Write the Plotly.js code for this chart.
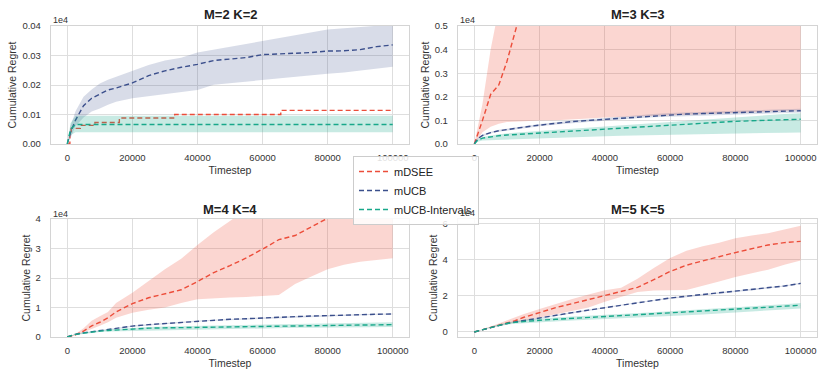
<!DOCTYPE html>
<html>
<head>
<meta charset="utf-8">
<script src="https://cdn.plot.ly/plotly-3.0.1.min.js"></script>
<style>
  html, body { margin: 0; padding: 0; background: #ffffff; }
  #chart { width: 830px; height: 378px; }
</style>
</head>
<body>
<div id="chart"></div>
<script>
// timesteps shared by every panel
const gridX = [0, 1000, 2500, 5000, 7500, 10000, 12500, 15000, 20000, 25000, 30000, 35000, 40000,
  45000, 50000, 55000, 60000, 65000, 70000, 75000, 80000, 85000, 90000, 95000, 100000];

const seriesNames = ["mDSEE", "mUCB", "mUCB-Intervals"];
const panelTitles = ["M=2 K=2", "M=3 K=3", "M=4 K=4", "M=5 K=5"];

// values in units of 1e4
// M=2 K=2 (mDSEE is a staircase)
const p1DseeX = [0, 800, 1200, 4000, 8500, 16000, 33000, 65600, 100000];
const p1Dsee = [0, 0.0042, 0.0053, 0.0063, 0.0073, 0.0088, 0.0100, 0.0114, 0.0114];
const p1Ucb = [0, 0.004, 0.008, 0.013, 0.0155, 0.017, 0.0183, 0.019, 0.0207, 0.0232, 0.0248, 0.026, 0.027,
  0.0283, 0.0288, 0.0293, 0.0303, 0.0305, 0.0307, 0.031, 0.0315, 0.0316, 0.032, 0.033, 0.0336];
const p1UcbLo = [0, 0.002, 0.006, 0.009, 0.011, 0.012, 0.0133, 0.0143, 0.0155, 0.0163, 0.017, 0.0176, 0.0183,
  0.0201, 0.0207, 0.0212, 0.0218, 0.0222, 0.0228, 0.0233, 0.0238, 0.0242, 0.0248, 0.0255, 0.0262];
const p1UcbHi = [0, 0.006, 0.011, 0.016, 0.0185, 0.0205, 0.0218, 0.0228, 0.025, 0.0268, 0.0283, 0.0292, 0.031,
  0.032, 0.0328, 0.0338, 0.0348, 0.0358, 0.037, 0.038, 0.0388, 0.0392, 0.0396, 0.0401, 0.0405];
const p1Ints = [0, 0.005, 0.0066, 0.0066, 0.0066, 0.0066, 0.0066, 0.0066, 0.0066, 0.0066, 0.0066, 0.0066, 0.0066,
  0.0066, 0.0066, 0.0066, 0.0066, 0.0066, 0.0066, 0.0066, 0.0066, 0.0066, 0.0066, 0.0066, 0.0066];
const p1IntsLo = [0, 0.003, 0.004, 0.004, 0.004, 0.004, 0.004, 0.004, 0.004, 0.004, 0.004, 0.004, 0.004,
  0.004, 0.004, 0.004, 0.004, 0.004, 0.004, 0.004, 0.004, 0.004, 0.004, 0.004, 0.004];
const p1IntsHi = [0, 0.007, 0.0096, 0.0096, 0.0096, 0.0096, 0.0096, 0.0096, 0.0096, 0.0096, 0.0096, 0.0096, 0.0096,
  0.0096, 0.0096, 0.0096, 0.0096, 0.0096, 0.0096, 0.0096, 0.0096, 0.0096, 0.0096, 0.0096, 0.0096];

// M=3 K=3
const p2Dsee = [0, 0.038, 0.1, 0.21, 0.25, 0.35, 0.5, 0.65, 0.9, 1.1, 1.3, 1.45, 1.6,
  1.75, 1.9, 2.0, 2.1, 2.2, 2.3, 2.4, 2.5, 2.6, 2.7, 2.8, 2.9];
const p2DseeLo = [0, 0.02, 0.05, 0.073, 0.086, 0.093, 0.096, 0.098, 0.1, 0.101, 0.103, 0.108, 0.112,
  0.115, 0.118, 0.12, 0.122, 0.124, 0.126, 0.128, 0.13, 0.133, 0.136, 0.14, 0.143];
const p2DseeHi = [0, 0.07, 0.17, 0.4, 0.65, 0.9, 1.2, 1.5, 2.0, 2.4, 2.8, 3.1, 3.4,
  3.7, 4.0, 4.2, 4.4, 4.6, 4.8, 5.0, 5.2, 5.4, 5.6, 5.8, 6.0];
const p2Ucb = [0, 0.022, 0.036, 0.048, 0.056, 0.062, 0.067, 0.071, 0.08, 0.088, 0.095, 0.1, 0.105,
  0.11, 0.115, 0.12, 0.124, 0.127, 0.129, 0.131, 0.133, 0.135, 0.137, 0.139, 0.141];
const p2UcbLo = [0, 0.019, 0.032, 0.044, 0.052, 0.058, 0.063, 0.067, 0.075, 0.083, 0.09, 0.095, 0.1,
  0.104, 0.109, 0.113, 0.117, 0.12, 0.122, 0.124, 0.126, 0.128, 0.129, 0.131, 0.133];
const p2UcbHi = [0, 0.025, 0.04, 0.052, 0.06, 0.066, 0.071, 0.075, 0.085, 0.093, 0.1, 0.105, 0.111,
  0.116, 0.121, 0.127, 0.131, 0.134, 0.136, 0.139, 0.141, 0.143, 0.145, 0.147, 0.149];
const p2Ints = [0, 0.016, 0.025, 0.031, 0.035, 0.038, 0.04, 0.042, 0.046, 0.049, 0.053, 0.058, 0.062,
  0.067, 0.071, 0.075, 0.08, 0.084, 0.088, 0.092, 0.096, 0.099, 0.101, 0.103, 0.105];
const p2IntsLo = [0, 0.01, 0.015, 0.018, 0.02, 0.021, 0.022, 0.023, 0.025, 0.027, 0.029, 0.031, 0.033,
  0.035, 0.037, 0.039, 0.04, 0.042, 0.043, 0.044, 0.045, 0.046, 0.047, 0.048, 0.049];
const p2IntsHi = [0, 0.02, 0.03, 0.037, 0.041, 0.045, 0.048, 0.05, 0.055, 0.06, 0.065, 0.07, 0.075,
  0.08, 0.085, 0.09, 0.095, 0.1, 0.105, 0.11, 0.115, 0.12, 0.124, 0.127, 0.13];

// M=4 K=4
const p3Dsee = [0, 0.02, 0.07, 0.2, 0.38, 0.5, 0.65, 0.85, 1.13, 1.33, 1.47, 1.6, 1.88,
  2.18, 2.42, 2.68, 2.98, 3.3, 3.44, 3.72, 4.0, 4.3, 4.6, 4.9, 5.2];
const p3DseeLo = [0, 0.02, 0.05, 0.15, 0.27, 0.38, 0.5, 0.65, 0.82, 0.92, 1.0, 1.15, 1.28,
  1.32, 1.34, 1.36, 1.38, 1.42, 1.8, 2.05, 2.3, 2.45, 2.55, 2.6, 2.67];
const p3DseeHi = [0, 0.03, 0.1, 0.3, 0.55, 0.7, 0.85, 1.15, 1.5, 1.9, 2.3, 2.65, 3.12,
  3.55, 3.95, 4.35, 4.7, 5.0, 5.3, 5.6, 5.9, 6.2, 6.5, 6.8, 7.1];
const p3Ucb = [0, 0.04, 0.09, 0.14, 0.18, 0.22, 0.26, 0.29, 0.37, 0.42, 0.46, 0.5, 0.54,
  0.57, 0.6, 0.62, 0.65, 0.67, 0.69, 0.71, 0.73, 0.74, 0.75, 0.77, 0.78];
const p3UcbLo = [0, 0.03, 0.08, 0.13, 0.165, 0.205, 0.245, 0.275, 0.35, 0.4, 0.44, 0.48, 0.52,
  0.55, 0.58, 0.6, 0.63, 0.65, 0.67, 0.69, 0.71, 0.72, 0.73, 0.75, 0.76];
const p3UcbHi = [0, 0.05, 0.1, 0.15, 0.195, 0.235, 0.275, 0.305, 0.39, 0.44, 0.48, 0.52, 0.56,
  0.59, 0.62, 0.64, 0.67, 0.69, 0.71, 0.73, 0.75, 0.76, 0.77, 0.79, 0.8];
const p3Ints = [0, 0.04, 0.09, 0.13, 0.17, 0.2, 0.22, 0.24, 0.27, 0.3, 0.31, 0.32, 0.33,
  0.34, 0.35, 0.355, 0.36, 0.365, 0.37, 0.38, 0.39, 0.4, 0.405, 0.41, 0.42];
const p3IntsLo = [0, 0.03, 0.07, 0.11, 0.14, 0.17, 0.19, 0.2, 0.22, 0.24, 0.25, 0.26, 0.27,
  0.28, 0.29, 0.29, 0.3, 0.3, 0.31, 0.31, 0.32, 0.32, 0.33, 0.33, 0.34];
const p3IntsHi = [0, 0.05, 0.1, 0.15, 0.19, 0.22, 0.25, 0.27, 0.31, 0.34, 0.36, 0.37, 0.39,
  0.4, 0.41, 0.42, 0.43, 0.44, 0.45, 0.46, 0.46, 0.47, 0.48, 0.49, 0.5];

// M=5 K=5
const p4Dsee = [0, 0.05, 0.13, 0.26, 0.4, 0.52, 0.62, 0.8, 1.07, 1.35, 1.57, 1.79, 2.0,
  2.22, 2.47, 2.9, 3.35, 3.7, 3.95, 4.17, 4.4, 4.6, 4.82, 4.95, 5.02];
const p4DseeLo = [0, 0.05, 0.12, 0.24, 0.34, 0.44, 0.53, 0.62, 0.8, 0.98, 1.15, 1.35, 1.67,
  1.95, 2.22, 2.3, 2.31, 2.33, 2.55, 2.8, 3.05, 3.25, 3.45, 3.73, 3.96];
const p4DseeHi = [0, 0.05, 0.15, 0.3, 0.48, 0.62, 0.8, 0.98, 1.27, 1.56, 1.83, 2.08, 2.31,
  2.45, 2.95, 3.55, 4.1, 4.5, 4.75, 4.95, 5.2, 5.35, 5.47, 5.68, 5.89];
const p4Ucb = [0, 0.05, 0.12, 0.25, 0.37, 0.47, 0.55, 0.63, 0.78, 0.93, 1.07, 1.21, 1.35,
  1.49, 1.63, 1.76, 1.88, 1.98, 2.07, 2.15, 2.24, 2.33, 2.43, 2.55, 2.69];
const p4UcbLo = [0, 0.045, 0.11, 0.23, 0.35, 0.45, 0.53, 0.61, 0.75, 0.9, 1.04, 1.18, 1.32,
  1.46, 1.6, 1.73, 1.85, 1.95, 2.04, 2.12, 2.21, 2.3, 2.4, 2.52, 2.66];
const p4UcbHi = [0, 0.055, 0.13, 0.27, 0.39, 0.49, 0.57, 0.65, 0.81, 0.96, 1.1, 1.24, 1.38,
  1.52, 1.66, 1.79, 1.91, 2.01, 2.1, 2.18, 2.27, 2.36, 2.46, 2.58, 2.72];
const p4Ints = [0, 0.05, 0.12, 0.26, 0.38, 0.47, 0.53, 0.58, 0.65, 0.7, 0.75, 0.79, 0.83,
  0.88, 0.94, 0.99, 1.05, 1.1, 1.15, 1.2, 1.25, 1.31, 1.37, 1.43, 1.48];
const p4IntsLo = [0, 0.05, 0.11, 0.23, 0.33, 0.4, 0.45, 0.49, 0.55, 0.59, 0.63, 0.67, 0.7,
  0.74, 0.79, 0.83, 0.88, 0.93, 0.97, 1.02, 1.07, 1.13, 1.19, 1.25, 1.3];
const p4IntsHi = [0, 0.05, 0.13, 0.29, 0.43, 0.54, 0.61, 0.67, 0.75, 0.8, 0.85, 0.89, 0.93,
  0.98, 1.04, 1.09, 1.15, 1.2, 1.25, 1.3, 1.36, 1.42, 1.48, 1.54, 1.6];

const xTicks = [0, 20000, 40000, 60000, 80000, 100000];

const COLORS = ["#ec4d3a", "#3b4f8c", "#18a88a"];
const FILLS = ["rgba(236,77,58,0.23)", "rgba(59,79,140,0.2)", "rgba(24,168,138,0.24)"];
const FONT = "Liberation Sans, Arial, sans-serif";


function bandTrace(x, lo, hi, idx, axes) {
  return {
    x: x.concat(x.slice().reverse()),
    y: hi.concat(lo.slice().reverse()),
    xaxis: axes[0], yaxis: axes[1],
    type: "scatter", mode: "lines",
    fill: "toself", fillcolor: FILLS[idx],
    line: { width: 0 },
    showlegend: false, hoverinfo: "skip",
  };
}

function meanTrace(x, y, idx, axes, showLegend, shape) {
  return {
    x, y,
    xaxis: axes[0], yaxis: axes[1],
    type: "scatter", mode: "lines",
    name: seriesNames[idx],
    line: { color: COLORS[idx], width: 1.4, dash: "5px,3px", shape: shape || "linear" },
    showlegend: showLegend,
  };
}


const panels = [
  { axes: ["x", "y"], series: [
      { x: p1DseeX, mean: p1Dsee, shape: "hv" },
      { x: gridX, mean: p1Ucb, lo: p1UcbLo, hi: p1UcbHi },
      { x: gridX, mean: p1Ints, lo: p1IntsLo, hi: p1IntsHi } ] },
  { axes: ["x2", "y2"], series: [
      { x: gridX, mean: p2Dsee, lo: p2DseeLo, hi: p2DseeHi },
      { x: gridX, mean: p2Ucb, lo: p2UcbLo, hi: p2UcbHi },
      { x: gridX, mean: p2Ints, lo: p2IntsLo, hi: p2IntsHi } ] },
  { axes: ["x3", "y3"], series: [
      { x: gridX, mean: p3Dsee, lo: p3DseeLo, hi: p3DseeHi },
      { x: gridX, mean: p3Ucb, lo: p3UcbLo, hi: p3UcbHi },
      { x: gridX, mean: p3Ints, lo: p3IntsLo, hi: p3IntsHi } ] },
  { axes: ["x4", "y4"], series: [
      { x: gridX, mean: p4Dsee, lo: p4DseeLo, hi: p4DseeHi },
      { x: gridX, mean: p4Ucb, lo: p4UcbLo, hi: p4UcbHi },
      { x: gridX, mean: p4Ints, lo: p4IntsLo, hi: p4IntsHi } ] },
];

const traces = [];
panels.forEach((panel, p) => {
  panel.series.forEach((s, i) => {
    if (s.lo) traces.push(bandTrace(s.x, s.lo, s.hi, i, panel.axes));
    traces.push(meanTrace(s.x, s.mean, i, panel.axes, p === 0, s.shape));
  });
});


function xAxis(domain, anchor) {
  return {
    domain, anchor,
    range: [-5000, 105000],
    tickvals: xTicks, tickformat: "d",
    showgrid: true, gridcolor: "#dedede", gridwidth: 1,
    zeroline: false, showline: true, mirror: true, linecolor: "#d4d4d4", linewidth: 1.2,
    ticks: "outside", ticklen: 4, tickcolor: "rgba(0,0,0,0)",
    tickfont: { size: 9.5, color: "#333333" },
    title: { text: "Timestep", font: { size: 10.5, color: "#333333" }, standoff: 5 },
  };
}

function yAxis(domain, anchor, range, tickvals, tickformat) {
  return {
    domain, anchor, range, tickvals, tickformat,
    showgrid: true, gridcolor: "#dedede", gridwidth: 1,
    zeroline: false, showline: true, mirror: true, linecolor: "#d4d4d4", linewidth: 1.2,
    ticks: "outside", ticklen: 7, tickcolor: "rgba(0,0,0,0)",
    tickfont: { size: 9.5, color: "#333333" },
    title: { text: "Cumulative Regret", font: { size: 10.5, color: "#333333" }, standoff: 3 },
  };
}

const colL = [51 / 830, 409 / 830];
const colR = [458 / 830, 817 / 830];
const rowT = [1 - 144 / 378, 1 - 26 / 378];
const rowB = [1 - 337 / 378, 1 - 219 / 378];

const titleAnn = (text, dom, yPaper) => ({
  text: "<b>" + text + "</b>", xref: "paper", yref: "paper",
  x: (dom[0] + dom[1]) / 2, y: yPaper, xanchor: "center", yanchor: "middle",
  showarrow: false, font: { size: 13, color: "#222222" },
});
const offsetAnn = (dom, yPaper) => ({
  text: "1e4", xref: "paper", yref: "paper",
  x: dom[0], y: yPaper, xanchor: "left", yanchor: "middle",
  showarrow: false, font: { size: 9, color: "#333333" },
});

const layout = {
  width: 830, height: 378,
  margin: { l: 0, r: 0, t: 0, b: 0 },
  paper_bgcolor: "#ffffff", plot_bgcolor: "#ffffff",
  font: { family: FONT, color: "#333333" },
  showlegend: true,
  hovermode: false,
  legend: {
    x: 353 / 830, y: 1 - 156 / 378, xanchor: "left", yanchor: "top",
    bgcolor: "rgba(255,255,255,0.85)", bordercolor: "#cccccc", borderwidth: 1,
    font: { size: 11, color: "#222222" }, tracegroupgap: 0,
  },
  xaxis: xAxis(colL, "y"),
  yaxis: yAxis(rowT, "x", [0, 0.04], [0, 0.01, 0.02, 0.03, 0.04], ".2f"),
  xaxis2: xAxis(colR, "y2"),
  yaxis2: yAxis(rowT, "x2", [0, 0.5], [0, 0.1, 0.2, 0.3, 0.4, 0.5], ".1f"),
  xaxis3: xAxis(colL, "y3"),
  yaxis3: yAxis(rowB, "x3", [0, 4], [0, 1, 2, 3, 4], "d"),
  xaxis4: xAxis(colR, "y4"),
  yaxis4: yAxis(rowB, "x4", [-0.28, 6.26], [0, 2, 4, 6], "d"),
  annotations: [
    titleAnn(panelTitles[0], colL, 1 - 15 / 378),
    titleAnn(panelTitles[1], colR, 1 - 15 / 378),
    titleAnn(panelTitles[2], colL, 1 - 209 / 378),
    titleAnn(panelTitles[3], colR, 1 - 209 / 378),
    offsetAnn(colL, 1 - 20 / 378),
    offsetAnn(colR, 1 - 20 / 378),
    offsetAnn(colL, 1 - 214 / 378),
    offsetAnn(colR, 1 - 213 / 378),
  ],
};

Plotly.newPlot("chart", traces, layout, { displayModeBar: false, staticPlot: true });
</script>
</body>
</html>
